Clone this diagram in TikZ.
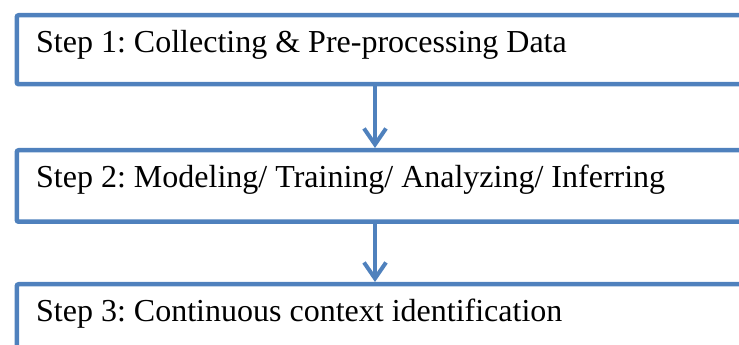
\documentclass[tikz,border=0pt]{standalone}
\usepackage{fontspec}
\setmainfont{Liberation Serif}
\usetikzlibrary{arrows.meta}
\definecolor{stepblue}{HTML}{4F81BD}
\frenchspacing
\begin{document}
\begin{tikzpicture}[x=1pt,y=1pt,
  stepbox/.style={draw=stepblue, line width=4.5pt, rounded corners=2pt,
    inner sep=0pt, minimum width=780pt, anchor=north west},
  steptext/.style={anchor=base west, inner sep=0pt,
    font=\fontsize{32}{38}\selectfont},
  flow/.style={draw=stepblue, line width=4pt,
    -{Straight Barb[length=16pt,width=22pt]}}]
\useasboundingbox (0,0) rectangle (739,345);
\clip (0,0) rectangle (739,345);
% three stacked step boxes (right and bottom run past the frame)
\node[stepbox, minimum height=69pt]   (b1) at (14.5,332) {};
\node[stepbox, minimum height=71.5pt] (b2) at (14.5,197) {};
\node[stepbox, minimum height=100pt]  (b3) at (14.5,63)  {};
% labels
\node[steptext] (t1) at (36,292) {Step 1: Collecting \& Pre-processing Data};
\node[steptext] (t2) at (36,157) {Step 2: Modeling/ Training/ Analyzing/ Inferring};
\node[steptext] (t3) at (36,23)  {Step 3: Continuous context identification};
% connectors
\coordinate (ax) at (375,0);
\draw[flow] (b1.south -| ax) -- (b2.north -| ax);
\draw[flow] (b2.south -| ax) -- (b3.north -| ax);
\end{tikzpicture}
\end{document}
